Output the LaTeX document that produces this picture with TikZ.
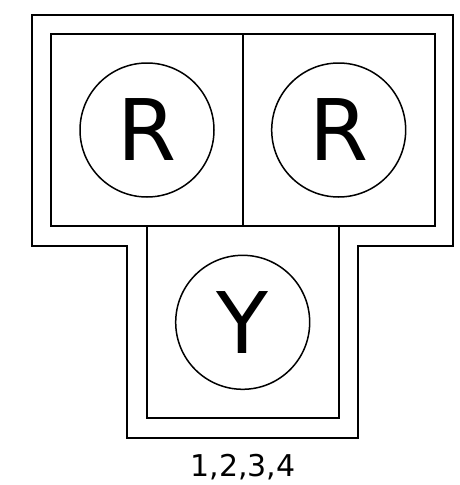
\documentclass[tikz,border=0pt]{standalone}
\usepackage{fontspec}
\setmainfont{DejaVu Sans}
\begin{document}
\begin{tikzpicture}[x=1pt,y=-1pt,
  cell/.style={draw,line width=2pt,minimum width=192pt,minimum height=192pt,inner sep=0pt},
  unit/.style={draw,circle,line width=1.5pt,minimum size=134pt,inner sep=0pt,font=\fontsize{85}{85}\selectfont},
  wall/.style={draw,line width=2pt}]
\useasboundingbox (0,0) rectangle (459,485);
\path[wall] (31.7,15) -- (452.7,15) -- (452.7,245.5) -- (358.3,245.5) -- (358.3,437.7)
  -- (127.3,437.7) -- (127.3,245.5) -- (31.7,245.5) -- cycle;
\node[cell] (sl) at (147,130) {};
\node[cell] (sr) at (338.7,130) {};
\node[cell] (sb) at (242.7,322.3) {};
\node[unit] (cl) at (sl.center) {R};
\node[unit] (cr) at (sr.center) {R};
\node[unit] (cb) at (sb.center) {Y};
\node[font=\fontsize{30}{30}\selectfont,anchor=base] (lab) at (243,476.7) {1,2,3,4};
\end{tikzpicture}
\end{document}
